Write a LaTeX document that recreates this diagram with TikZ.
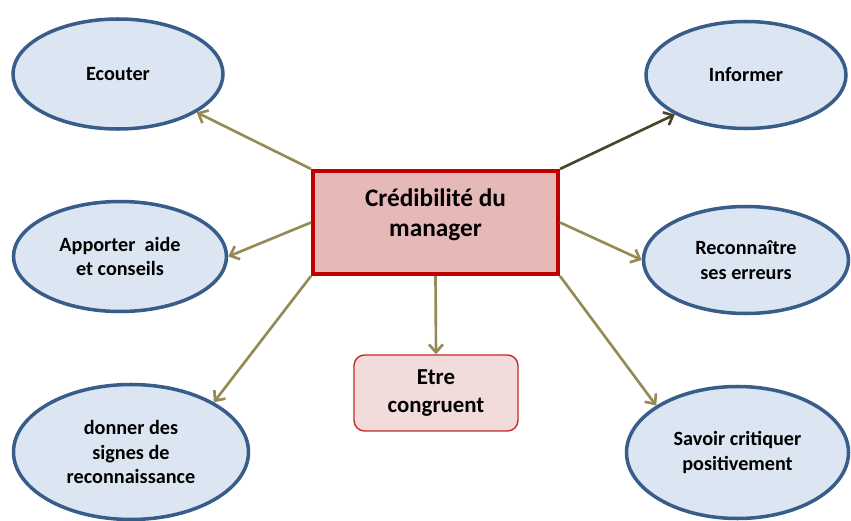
\documentclass[tikz,border=0pt]{standalone}
\usepackage{fontspec}
\setmainfont{Carlito}
\usetikzlibrary{positioning, arrows.meta, shapes.geometric}

\definecolor{bulle}{HTML}{DCE6F2}
\definecolor{bullebord}{HTML}{385D8A}
\definecolor{centre}{HTML}{E6B9B8}
\definecolor{centrebord}{HTML}{C00000}
\definecolor{rose}{HTML}{F2DCDB}
\definecolor{rosebord}{RGB}{200,40,40}
\definecolor{olive}{HTML}{948A54}
\definecolor{olivefonce}{HTML}{4A452A}

\begin{document}
\begin{tikzpicture}[
        bubble/.style={ellipse, draw=bullebord, line width=2pt, fill=bulle, inner sep=0pt, align=center, font=\fontsize{11.5}{14}\selectfont\bfseries},
        core/.style={rectangle, draw=centrebord, line width=2.3pt, fill=centre, align=center, minimum width=4.9cm, minimum height=2.06cm, font=\fontsize{14.4}{17}\selectfont\bfseries},
        result/.style={rectangle, draw=rosebord, line width=0.8pt, fill=rose, rounded corners=6pt, align=center, minimum width=3.28cm, minimum height=1.52cm, font=\fontsize{13}{15.5}\selectfont\bfseries},
        arrow/.style={line width=1.5pt, draw=olive, -{Straight Barb[length=4.5pt,width=8pt]}}
    ]
    \useasboundingbox (0,0) rectangle (17.02,-10.42);

    \node[core] (credib) at (8.71,-4.45) {Crédibilité du\\manager\\[-5.6pt]\mbox{}};
    \node[result] (congru) at (8.72,-7.86) {Etre\\congruent};

    \node[bubble, minimum width=4.2cm, minimum height=2.2cm] (ecouter) at (2.36,-1.48) {Ecouter};
    \node[bubble, minimum width=4.0cm, minimum height=2.14cm] (informer) at (14.92,-1.5) {Informer};
    \node[bubble, minimum width=4.26cm, minimum height=2.2cm] (aide) at (2.4,-5.13) {Apporter~~aide\\et conseils};
    \node[bubble, minimum width=4.1cm, minimum height=2.14cm] (erreurs) at (14.92,-5.2) {Reconnaître\\ses erreurs};
    \node[bubble, minimum width=4.7cm, minimum height=2.7cm] (signes) at (2.62,-9.04) {donner des\\signes de\\reconnaissance};
    \node[bubble, minimum width=4.44cm, minimum height=2.64cm] (critique) at (14.75,-9.05) {Savoir critiquer\\positivement};

    \draw[arrow] (credib.north west) -- (ecouter.-26);
    \draw[arrow, draw=olivefonce] (credib.north east) -- (informer.209);
    \draw[arrow] (credib.west) -- (aide.east);
    \draw[arrow] (credib.east) -- (erreurs.west);
    \draw[arrow] (credib.south west) -- (signes.31);
    \draw[arrow] (credib.south east) -- (critique.150);
    \draw[arrow] (credib.south) -- (congru.north);
\end{tikzpicture}
\end{document}
